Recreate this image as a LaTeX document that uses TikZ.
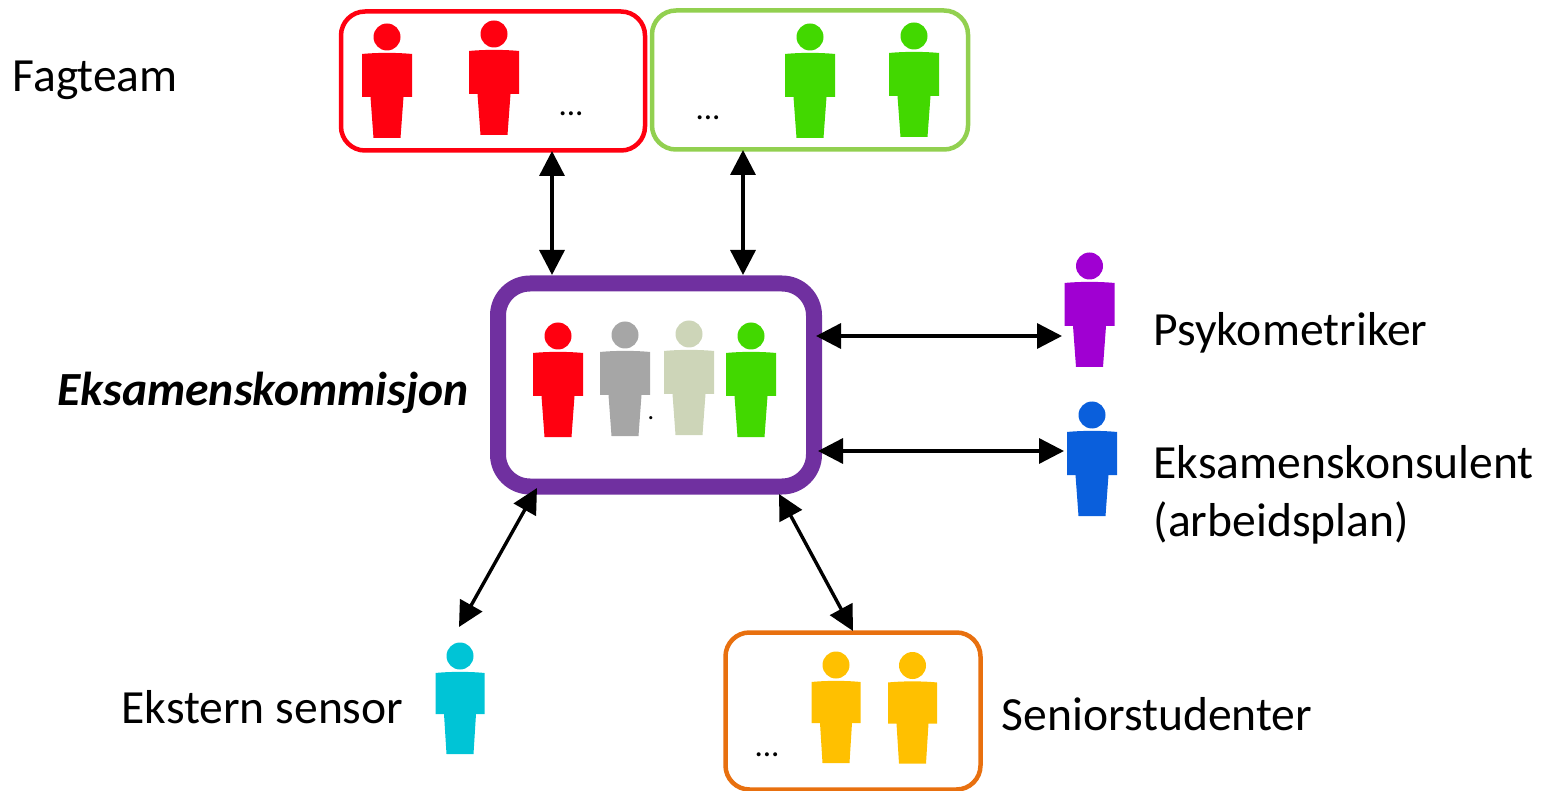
\documentclass[tikz,border=0pt]{standalone}
\usepackage{fontspec}
\setmainfont{Carlito}
\usetikzlibrary{arrows.meta}
\definecolor{cRed}{HTML}{FF0010}
\definecolor{cGreen}{HTML}{42D800}
\definecolor{cGray}{HTML}{A6A6A6}
\definecolor{cPale}{HTML}{CDD5B8}
\definecolor{cPurple}{HTML}{7030A0}
\definecolor{cViolet}{HTML}{A000D2}
\definecolor{cBlue}{HTML}{0A5FDC}
\definecolor{cCyan}{HTML}{00C4D6}
\definecolor{cYellow}{HTML}{FFC000}
\definecolor{cOrange}{HTML}{E8700F}
\definecolor{cLime}{HTML}{92D050}
\tikzset{
  teambox/.style={draw=#1,line width=4.5pt,rounded corners=24pt,inner sep=0pt,fill=none},
  label/.style={font=\fontsize{47.6}{57}\selectfont,text=black,inner sep=0pt,anchor=base west},
  dots/.style={font=\fontsize{33}{40}\selectfont,text=black,inner sep=0pt,anchor=base},
  link/.style={line width=3.4pt,black,{Triangle[length=25pt,width=25pt]}-{Triangle[length=25pt,width=25pt]},shorten <=0pt,shorten >=0pt},
  person/.pic={
    \fill[pic actions] (0,0) circle (13.5);
    \fill[pic actions] (-25,17) .. controls (-10,15.5) and (10,15.5) .. (25,17)
      -- (25,60) -- (16.5,60) -- (13.5,101) -- (-13.5,101) -- (-16.5,60) -- (-25,60) -- cycle;
  },
  shortperson/.pic={
    \fill[pic actions] (0,0) circle (13.5);
    \fill[pic actions] (-24.5,17) .. controls (-10,15.5) and (10,15.5) .. (24.5,17)
      -- (24.5,58) -- (16,58) -- (13.5,98) -- (-13.5,98) -- (-16,58) -- (-24.5,58) -- cycle;
  }
}
\begin{document}
\begin{tikzpicture}[x=1pt,y=-1pt]
\useasboundingbox (0,0) rectangle (1550,791);
% boxes
\node[teambox=cRed,minimum width=304pt,minimum height=139pt] (red) at (493,81) {};
\node[teambox=cLime,minimum width=316pt,minimum height=139pt] (green) at (810,80) {};
\node[draw=cPurple,line width=16pt,rounded corners=32pt,inner sep=0pt,minimum width=316pt,minimum height=203pt] (comm) at (656,385) {};
\node[teambox=cOrange,minimum width=255pt,minimum height=157pt] (senior) at (853,711) {};
% people
\pic[fill=cRed] at (387,37) {person};
\pic[fill=cRed] at (494,34) {person};
\pic[fill=cGreen] at (810,37) {person};
\pic[fill=cGreen] at (914,36) {person};
\pic[fill=cRed] at (558,336) {person};
\pic[fill=cGray] at (625,335) {person};
\pic[fill=cPale] at (689,334) {person};
\pic[fill=cGreen] at (751,336) {person};
\pic[fill=cViolet] at (1089.5,266) {person};
\pic[fill=cBlue] at (1092,415) {person};
\pic[fill=cCyan] at (460,656) {shortperson};
\pic[fill=cYellow] at (836,665) {shortperson};
\pic[fill=cYellow] at (912.5,665.5) {shortperson};
% labels
\node[label] (fag) at (12.5,92) {Fagteam};
\node[label] (eks) at (57.5,406) {\bfseries\itshape Eksamenskommisjon};
\node[label] (psy) at (1153.5,346) {Psykometriker};
\node[label] (kon) at (1153.5,478) {Eksamenskonsulent};
\node[label] (arb) at (1153.5,536) {(arbeidsplan)};
\node[label] (ekst) at (121.5,723) {Ekstern sensor};
\node[label] (sen) at (1001.5,730) {Seniorstudenter};
\node[dots] (d1) at (571,116) {...};
\node[dots] (d2) at (708,120) {...};
\node[dots] (d3) at (767,756) {...};
\node[dots,font=\fontsize{26}{30}\selectfont] (d4) at (651,419) {.};
% connector ends
\coordinate (a1) at (552,151); \coordinate (a2) at (552,275);
\coordinate (b1) at (743,150); \coordinate (b2) at (743,275);
\coordinate (c1) at (816,336); \coordinate (c2) at (1062,336);
\coordinate (e1) at (818,451); \coordinate (e2) at (1064,451);
\coordinate (f1) at (537,488); \coordinate (f2) at (459,627);
\coordinate (g1) at (779,494); \coordinate (g2) at (853,631);
\draw[link] (a1) -- (a2);
\draw[link] (b1) -- (b2);
\draw[link] (c1) -- (c2);
\draw[link] (e1) -- (e2);
\draw[link] (f1) -- (f2);
\draw[link] (g1) -- (g2);
\end{tikzpicture}
\end{document}
